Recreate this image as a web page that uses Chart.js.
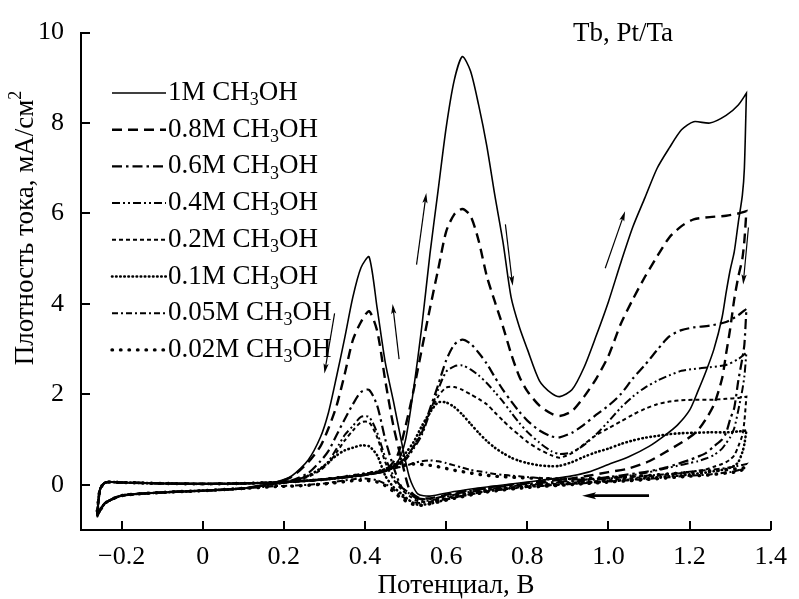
<!DOCTYPE html>
<html>
<head>
<meta charset="utf-8">
<script src="https://cdn.jsdelivr.net/npm/chart.js@4.4.1/dist/chart.umd.min.js"></script>
<style>
  html, body { margin: 0; padding: 0; background: #fff; }
  canvas { display: block; }
</style>
</head>
<body>
<canvas id="cv" width="799" height="599"></canvas>
<script>
// potential grid of the forward (anodic) scan, V
const FWD_V = [-0.26, -0.253, -0.24, -0.2, -0.1, 0, 0.1, 0.2, 0.3, 0.4, 0.45, 0.48, 0.5, 0.52, 0.54, 0.56, 0.58, 0.6, 0.62, 0.64,
  0.66, 0.68, 0.7, 0.72, 0.74, 0.76, 0.78, 0.8, 0.83, 0.86, 0.88, 0.91, 0.94, 0.97, 1.0, 1.03, 1.06, 1.09, 1.12, 1.15,
  1.18, 1.21, 1.25, 1.29, 1.32, 1.34];
// potential grid of the backward (cathodic) scan, V
const BWD_V = [1.34, 1.335, 1.33, 1.32, 1.31, 1.3, 1.29, 1.28, 1.26, 1.24, 1.22, 1.2, 1.17, 1.14, 1.1, 1.05, 1.0, 0.95, 0.9, 0.8,
  0.7, 0.62, 0.56, 0.53, 0.51, 0.49, 0.47, 0.45, 0.43, 0.41, 0.39, 0.37, 0.35, 0.33, 0.31, 0.29, 0.26, 0.22, 0.18, 0.1,
  0, -0.1, -0.2, -0.24, -0.25, -0.26];

// current density, mA/cm2
const F_1M = [-0.72, -0.1, 0.05, 0.05, 0.03, 0.02, 0.03, 0.06, 0.12, 0.22, 0.3, 0.5, 1.0, 2.13, 3.5, 5.1, 6.5, 7.9, 8.95, 9.47,
  9.15, 8.4, 7.5, 6.4, 5.37, 4.15, 3.5, 3.0, 2.3, 2.02, 1.95, 2.1, 2.6, 3.3, 4.05, 4.9, 5.7, 6.35, 7.0, 7.45,
  7.85, 8.03, 8.0, 8.17, 8.4, 8.66];
const B_1M = [8.66, 7.0, 6.4, 5.8, 5.15, 4.75, 4.25, 3.7, 3.0, 2.5, 2.06, 1.65, 1.32, 1.1, 0.85, 0.62, 0.45, 0.28, 0.18, 0.06,
  -0.05, -0.15, -0.25, -0.2, 0.15, 0.95, 1.85, 2.7, 3.9, 5.04, 4.8, 4.15, 3.25, 2.4, 1.6, 1.05, 0.55, 0.2, 0.06, -0.08,
  -0.13, -0.17, -0.24, -0.4, -0.52, -0.72];

const F_08 = [-0.7, -0.1, 0.05, 0.05, 0.03, 0.02, 0.03, 0.06, 0.12, 0.22, 0.32, 0.65, 1.3, 2.1, 3.0, 3.9, 4.75, 5.6, 5.98, 6.1,
  5.95, 5.4, 4.62, 4.05, 3.5, 2.9, 2.4, 2.07, 1.75, 1.57, 1.52, 1.63, 1.95, 2.35, 2.85, 3.55, 4.1, 4.6, 5.05, 5.47,
  5.72, 5.87, 5.92, 5.95, 6.0, 6.05];
const B_08 = [6.05, 5.4, 5.0, 4.6, 4.1, 3.45, 2.9, 2.35, 1.77, 1.45, 1.2, 1.05, 0.88, 0.72, 0.52, 0.36, 0.28, 0.2, 0.13, 0.04,
  -0.06, -0.18, -0.3, -0.28, -0.12, 0.55, 1.3, 2.3, 3.4, 3.84, 3.6, 3.2, 2.45, 1.75, 1.25, 0.85, 0.5, 0.18, 0.05, -0.08,
  -0.13, -0.17, -0.24, -0.4, -0.52, -0.7];

const F_06 = [-0.68, -0.1, 0.05, 0.05, 0.03, 0.02, 0.03, 0.06, 0.12, 0.22, 0.3, 0.45, 0.6, 0.85, 1.15, 1.68, 2.2, 2.75, 3.1, 3.21,
  3.12, 2.92, 2.68, 2.38, 2.1, 1.85, 1.62, 1.42, 1.2, 1.07, 1.05, 1.15, 1.33, 1.55, 1.75, 2.0, 2.35, 2.65, 2.98, 3.28,
  3.42, 3.48, 3.52, 3.6, 3.75, 3.89];
const B_06 = [3.89, 3.1, 2.8, 2.3, 1.7, 1.45, 1.15, 1.0, 0.85, 0.7, 0.62, 0.55, 0.46, 0.38, 0.3, 0.23, 0.17, 0.12, 0.08, 0.02,
  -0.08, -0.2, -0.32, -0.3, -0.18, -0.05, 0.4, 1.0, 1.75, 2.1, 2.05, 1.78, 1.45, 1.1, 0.75, 0.52, 0.26, 0.1, 0.03, -0.08,
  -0.13, -0.17, -0.24, -0.4, -0.52, -0.68];

const F_04 = [-0.66, -0.1, 0.05, 0.05, 0.03, 0.02, 0.03, 0.06, 0.12, 0.22, 0.3, 0.42, 0.55, 0.8, 1.1, 1.6, 2.1, 2.5, 2.62, 2.64,
  2.55, 2.42, 2.25, 2.05, 1.84, 1.6, 1.37, 1.17, 0.93, 0.74, 0.68, 0.72, 0.88, 1.12, 1.4, 1.7, 1.95, 2.15, 2.3, 2.42,
  2.52, 2.56, 2.6, 2.65, 2.78, 2.92];
const B_04 = [2.92, 2.4, 2.1, 1.65, 1.25, 1.05, 0.92, 0.8, 0.66, 0.58, 0.52, 0.48, 0.42, 0.36, 0.28, 0.2, 0.14, 0.1, 0.06, 0.0,
  -0.1, -0.22, -0.35, -0.32, -0.2, -0.05, 0.2, 0.6, 1.15, 1.5, 1.5, 1.3, 1.1, 0.8, 0.52, 0.35, 0.2, 0.08, 0.02, -0.08,
  -0.13, -0.17, -0.24, -0.4, -0.52, -0.66];

const F_02 = [-0.64, -0.1, 0.05, 0.05, 0.03, 0.02, 0.03, 0.06, 0.12, 0.22, 0.32, 0.45, 0.6, 0.85, 1.2, 1.6, 1.95, 2.15, 2.16, 2.1,
  2.0, 1.9, 1.78, 1.6, 1.42, 1.25, 1.1, 0.95, 0.78, 0.65, 0.6, 0.7, 0.9, 1.1, 1.25, 1.4, 1.55, 1.68, 1.78, 1.84,
  1.87, 1.88, 1.88, 1.9, 1.92, 1.95];
const B_02 = [1.95, 1.4, 1.1, 0.85, 0.65, 0.56, 0.5, 0.46, 0.4, 0.34, 0.31, 0.28, 0.25, 0.22, 0.18, 0.14, 0.1, 0.07, 0.04, -0.02,
  -0.12, -0.25, -0.38, -0.36, -0.25, -0.1, 0.12, 0.5, 1.05, 1.38, 1.38, 1.2, 0.98, 0.72, 0.48, 0.32, 0.18, 0.07, 0.02, -0.08,
  -0.13, -0.17, -0.24, -0.4, -0.52, -0.64];

const F_01 = [-0.62, -0.1, 0.05, 0.05, 0.03, 0.02, 0.03, 0.06, 0.12, 0.22, 0.35, 0.5, 0.7, 0.95, 1.3, 1.6, 1.82, 1.82, 1.72, 1.55,
  1.35, 1.15, 0.97, 0.82, 0.7, 0.6, 0.53, 0.48, 0.43, 0.41, 0.42, 0.5, 0.62, 0.72, 0.8, 0.9, 0.98, 1.04, 1.08, 1.12,
  1.14, 1.15, 1.16, 1.16, 1.18, 1.2];
const B_01 = [1.2, 0.9, 0.72, 0.5, 0.42, 0.38, 0.35, 0.33, 0.3, 0.27, 0.25, 0.23, 0.2, 0.18, 0.15, 0.11, 0.08, 0.05, 0.02, -0.04,
  -0.14, -0.28, -0.42, -0.44, -0.35, -0.2, -0.05, 0.2, 0.65, 0.85, 0.87, 0.82, 0.76, 0.65, 0.5, 0.36, 0.2, 0.08, 0.02, -0.08,
  -0.13, -0.17, -0.24, -0.4, -0.52, -0.62];

const F_005 = [-0.6, -0.1, 0.05, 0.05, 0.03, 0.02, 0.03, 0.06, 0.12, 0.25, 0.32, 0.38, 0.42, 0.48, 0.52, 0.54, 0.52, 0.48, 0.43, 0.38,
  0.33, 0.3, 0.27, 0.24, 0.22, 0.2, 0.19, 0.17, 0.15, 0.14, 0.13, 0.12, 0.12, 0.13, 0.14, 0.16, 0.18, 0.2, 0.22, 0.24,
  0.27, 0.3, 0.33, 0.37, 0.42, 0.46];
const B_005 = [0.46, 0.4, 0.36, 0.32, 0.3, 0.28, 0.27, 0.26, 0.24, 0.22, 0.21, 0.2, 0.18, 0.16, 0.13, 0.1, 0.07, 0.04, 0.01, -0.05,
  -0.15, -0.28, -0.38, -0.4, -0.35, -0.25, -0.1, 0.02, 0.1, 0.13, 0.14, 0.12, 0.1, 0.07, 0.04, 0.02, 0.0, -0.02, -0.03, -0.08,
  -0.13, -0.17, -0.24, -0.4, -0.52, -0.6];

const F_002 = [-0.58, -0.1, 0.05, 0.05, 0.03, 0.02, 0.03, 0.06, 0.12, 0.24, 0.33, 0.4, 0.44, 0.46, 0.45, 0.43, 0.4, 0.36, 0.32, 0.29,
  0.26, 0.23, 0.21, 0.19, 0.18, 0.17, 0.16, 0.15, 0.14, 0.13, 0.13, 0.13, 0.14, 0.15, 0.16, 0.17, 0.19, 0.2, 0.22, 0.24,
  0.26, 0.28, 0.3, 0.33, 0.36, 0.38];
const B_002 = [0.38, 0.35, 0.33, 0.3, 0.28, 0.27, 0.26, 0.25, 0.23, 0.21, 0.2, 0.19, 0.17, 0.15, 0.12, 0.09, 0.06, 0.03, 0.0, -0.06,
  -0.16, -0.3, -0.42, -0.46, -0.4, -0.3, -0.15, -0.02, 0.06, 0.09, 0.1, 0.09, 0.07, 0.05, 0.03, 0.01, -0.01, -0.03, -0.04, -0.08,
  -0.13, -0.17, -0.24, -0.4, -0.52, -0.58];

const SERIES_NAMES = ['1M', '0.8M', '0.6M', '0.4M', '0.2M', '0.1M', '0.05M', '0.02M'];
const FORWARD = [F_1M, F_08, F_06, F_04, F_02, F_01, F_005, F_002];
const BACKWARD = [B_1M, B_08, B_06, B_04, B_02, B_01, B_005, B_002];

const X_TICKS = [-0.2, 0, 0.2, 0.4, 0.6, 0.8, 1.0, 1.2, 1.4];
const X_TICK_LABELS = ['\u22120.2', '0', '0.2', '0.4', '0.6', '0.8', '1.0', '1.2', '1.4'];
const Y_TICKS = [0, 2, 4, 6, 8, 10];
const Y_TICK_LABELS = ['0', '2', '4', '6', '8', '10'];

// scan direction arrows: [x1, y1, x2, y2] in V and mA/cm2, head at the second point
const ARROWS = [
  [0.325, 3.79, 0.30, 2.46],
  [0.484, 2.78, 0.468, 4.0],
  [0.527, 4.87, 0.551, 6.45],
  [0.746, 5.76, 0.764, 4.40],
  [0.992, 4.79, 1.041, 6.05],
  [1.345, 5.69, 1.332, 4.43]
];
const BOTTOM_ARROW = [1.10, -0.24, 0.935, -0.24];

const SERIF = '"Liberation Serif", "Times New Roman", serif';
const TEXT_SIZE = 27;
const TICK_SIZE = 26;

// line look per concentration
const STYLES = [
  { width: 1.6, dash: [], cap: 'butt' },
  { width: 2.4, dash: [10, 6], cap: 'butt' },
  { width: 2.2, dash: [10, 4, 2.5, 4], cap: 'butt' },
  { width: 2.0, dash: [8, 3, 2, 3, 2, 3], cap: 'butt' },
  { width: 2.0, dash: [4, 3], cap: 'butt' },
  { width: 2.6, dash: [0.5, 3.6], cap: 'round' },
  { width: 2.0, dash: [6, 3, 2, 3], cap: 'butt' },
  { width: 3.4, dash: [0.5, 8], cap: 'round' }
];

const datasets = SERIES_NAMES.map((name, i) => {
  const pts = FWD_V.map((v, k) => ({ x: v, y: FORWARD[i][k] }))
    .concat(BWD_V.map((v, k) => ({ x: v, y: BACKWARD[i][k] })));
  return {
    label: name + ' CH3OH',
    data: pts,
    borderColor: '#000',
    borderWidth: STYLES[i].width,
    borderDash: STYLES[i].dash,
    borderCapStyle: STYLES[i].cap,
    pointRadius: 0,
    fill: false,
    tension: 0.25
  };
});

function drawArrow(ctx, x1, y1, x2, y2, lw, headLen, headW) {
  const ang = Math.atan2(y2 - y1, x2 - x1);
  ctx.save();
  ctx.lineWidth = lw;
  ctx.setLineDash([]);
  ctx.beginPath();
  ctx.moveTo(x1, y1);
  ctx.lineTo(x2 - Math.cos(ang) * headLen * 0.6, y2 - Math.sin(ang) * headLen * 0.6);
  ctx.stroke();
  ctx.translate(x2, y2);
  ctx.rotate(ang);
  ctx.beginPath();
  ctx.moveTo(0, 0);
  ctx.lineTo(-headLen, -headW);
  ctx.lineTo(-headLen * 0.8, 0);
  ctx.lineTo(-headLen, headW);
  ctx.closePath();
  ctx.fill();
  ctx.restore();
}

// text with a subscript / superscript part
function drawRich(ctx, parts, x, y, size) {
  let cx = x;
  parts.forEach(p => {
    const s = p.sub || p.sup ? Math.round(size * 0.68) : size;
    ctx.font = s + 'px ' + SERIF;
    const dy = p.sub ? size * 0.28 : (p.sup ? -size * 0.36 : 0);
    ctx.fillText(p.t, cx, y + dy);
    cx += ctx.measureText(p.t).width;
  });
  return cx - x;
}
function richWidth(ctx, parts, size) {
  let w = 0;
  parts.forEach(p => {
    const s = p.sub || p.sup ? Math.round(size * 0.68) : size;
    ctx.font = s + 'px ' + SERIF;
    w += ctx.measureText(p.t).width;
  });
  return w;
}

const decorPlugin = {
  id: 'decor',
  afterDraw(chart) {
    const ctx = chart.ctx;
    const xs = chart.scales.x, ys = chart.scales.y, a = chart.chartArea;
    ctx.save();
    ctx.strokeStyle = '#000';
    ctx.fillStyle = '#000';

    // inward tick marks
    ctx.lineWidth = 2;
    ctx.beginPath();
    X_TICKS.forEach(v => {
      const px = Math.round(xs.getPixelForValue(v));
      ctx.moveTo(px, a.bottom);
      ctx.lineTo(px, a.bottom - 9);
    });
    Y_TICKS.forEach(v => {
      const py = Math.round(ys.getPixelForValue(v));
      ctx.moveTo(a.left, py);
      ctx.lineTo(a.left + 9, py);
    });
    ctx.stroke();

    // arrows
    ARROWS.forEach(r => {
      drawArrow(ctx, xs.getPixelForValue(r[0]), ys.getPixelForValue(r[1]),
        xs.getPixelForValue(r[2]), ys.getPixelForValue(r[3]), 1.2, 10, 2.6);
    });
    drawArrow(ctx, xs.getPixelForValue(BOTTOM_ARROW[0]), ys.getPixelForValue(BOTTOM_ARROW[1]),
      xs.getPixelForValue(BOTTOM_ARROW[2]), ys.getPixelForValue(BOTTOM_ARROW[3]), 2.6, 14, 3.5);

    // legend
    ctx.textBaseline = 'middle';
    ctx.textAlign = 'left';
    chart.data.datasets.forEach((ds, i) => {
      const y = 93 + i * 36.7;
      ctx.save();
      ctx.lineWidth = ds.borderWidth;
      ctx.setLineDash(ds.borderDash);
      ctx.lineCap = ds.borderCapStyle;
      ctx.beginPath();
      ctx.moveTo(112, y);
      ctx.lineTo(166, y);
      ctx.stroke();
      ctx.restore();
      drawRich(ctx, [{ t: SERIES_NAMES[i] + ' CH' }, { t: '3', sub: true }, { t: 'OH' }], 168, y, TEXT_SIZE);
    });

    // sample label
    ctx.font = TEXT_SIZE + 'px ' + SERIF;
    ctx.fillText('Tb, Pt/Ta', 573, 34);

    // axis titles
    ctx.textAlign = 'center';
    ctx.fillText('\u041f\u043e\u0442\u0435\u043d\u0446\u0438\u0430\u043b, \u0412', 456, 586);

    ctx.textAlign = 'left';
    const yParts = [{ t: '\u041f\u043b\u043e\u0442\u043d\u043e\u0441\u0442\u044c \u0442\u043e\u043a\u0430, \u043c\u0410/\u0441\u043c' }, { t: '2', sup: true }];
    const w = richWidth(ctx, yParts, TEXT_SIZE);
    ctx.translate(26, 228);
    ctx.rotate(-Math.PI / 2);
    drawRich(ctx, yParts, -w / 2, 0, TEXT_SIZE);
    ctx.restore();
  }
};

new Chart(document.getElementById('cv'), {
  type: 'line',
  data: { datasets: datasets },
  options: {
    responsive: false,
    animation: false,
    layout: { padding: { left: 0, right: 19, top: 22, bottom: 0 } },
    plugins: { legend: { display: false }, tooltip: { enabled: false } },
    scales: {
      x: {
        type: 'linear',
        min: -0.3,
        max: 1.4,
        afterBuildTicks: s => { s.ticks = X_TICKS.map(v => ({ value: v })); },
        afterFit: s => { s.height = 69; },
        grid: { display: false, drawTicks: false },
        border: { display: true, color: '#000', width: 2 },
        ticks: {
          color: '#000',
          padding: 12,
          maxRotation: 0,
          font: { family: SERIF, size: TICK_SIZE },
          callback: v => X_TICK_LABELS[X_TICKS.indexOf(v)]
        }
      },
      y: {
        type: 'linear',
        min: -1,
        max: 10,
        afterBuildTicks: s => { s.ticks = Y_TICKS.map(v => ({ value: v })); },
        afterFit: s => { s.width = 81; },
        grid: { display: false, drawTicks: false },
        border: { display: true, color: '#000', width: 2 },
        ticks: {
          color: '#000',
          padding: 17,
          font: { family: SERIF, size: TICK_SIZE },
          callback: v => Y_TICK_LABELS[Y_TICKS.indexOf(v)]
        }
      }
    }
  },
  plugins: [decorPlugin]
});
</script>
</body>
</html>
